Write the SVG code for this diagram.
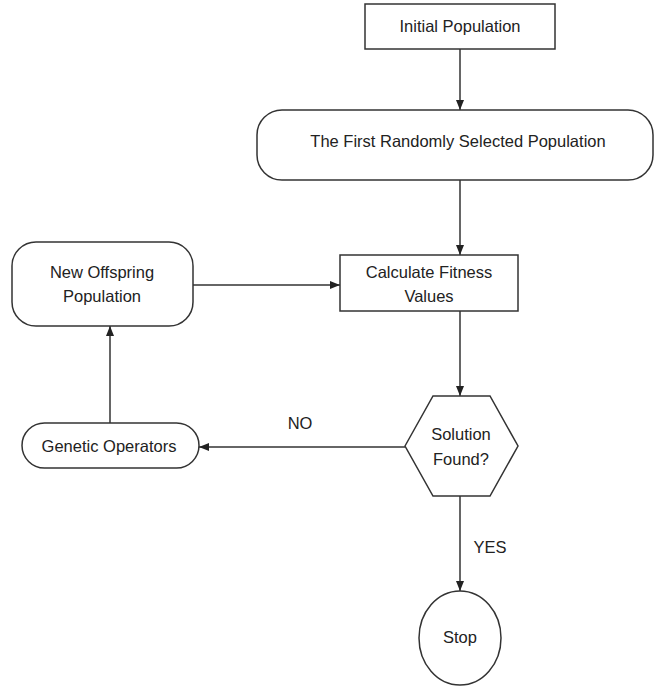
<svg xmlns="http://www.w3.org/2000/svg" width="654" height="690" viewBox="0 0 654 690">
<style>
.s{fill:#fff;stroke:#333;stroke-width:1.5}
.t{font-family:"Liberation Sans",Arial,sans-serif;font-size:16.5px;fill:#222;text-anchor:middle}
.c{fill:none;stroke:#333;stroke-width:1.5}
</style>
<defs>
<marker id="ah" viewBox="0 0 10 8" refX="10" refY="4" markerWidth="10" markerHeight="8" markerUnits="userSpaceOnUse" orient="auto">
<path d="M0,0 L10,4 L0,8 Z" fill="#222"/>
</marker>
</defs>
<rect width="654" height="690" fill="#fff"/>
<g id="connectors">
<line class="c" x1="460" y1="49" x2="460" y2="110" marker-end="url(#ah)"/>
<line class="c" x1="460" y1="180" x2="460" y2="255" marker-end="url(#ah)"/>
<line class="c" x1="460" y1="311" x2="460" y2="396" marker-end="url(#ah)"/>
<line class="c" x1="460" y1="496" x2="460" y2="591" marker-end="url(#ah)"/>
<line class="c" x1="405" y1="447" x2="199" y2="447" marker-end="url(#ah)"/>
<line class="c" x1="193" y1="285" x2="340" y2="285" marker-end="url(#ah)"/>
<line class="c" x1="110" y1="423" x2="110" y2="326" marker-end="url(#ah)"/>
<text class="t" x="300" y="429">NO</text>
<text class="t" x="490" y="553">YES</text>
</g>
<g id="initial">
<rect class="s" x="365" y="4" width="190" height="45"/>
<text class="t" x="460" y="32">Initial Population</text>
</g>
<g id="first">
<rect class="s" x="257" y="110" width="396" height="70" rx="25" ry="25"/>
<text class="t" x="458" y="147">The First Randomly Selected Population</text>
</g>
<g id="calc">
<rect class="s" x="340" y="255" width="178" height="56"/>
<text class="t" x="429" y="278">Calculate Fitness</text>
<text class="t" x="429" y="302">Values</text>
</g>
<g id="offspring">
<rect class="s" x="12" y="242" width="181" height="84" rx="24" ry="24"/>
<text class="t" x="102" y="278">New Offspring</text>
<text class="t" x="102" y="302">Population</text>
</g>
<g id="genetic">
<rect class="s" x="22" y="423" width="177" height="45" rx="22.5" ry="22.5"/>
<text class="t" x="109" y="452">Genetic Operators</text>
</g>
<g id="solution">
<polygon class="s" points="405,446 433,396 490,396 518,446 490,496 433,496"/>
<text class="t" x="461" y="440">Solution</text>
<text class="t" x="461" y="465">Found?</text>
</g>
<g id="stop">
<ellipse class="s" cx="460" cy="638" rx="41" ry="47"/>
<text class="t" x="460" y="643">Stop</text>
</g>
</svg>
